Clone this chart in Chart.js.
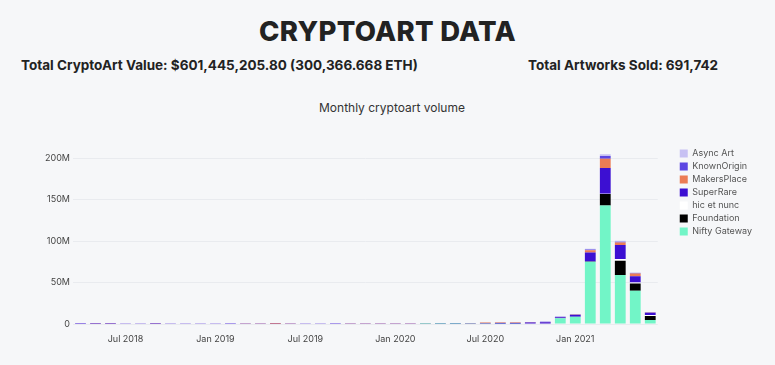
<!DOCTYPE html>
<html>
<head>
<meta charset="utf-8">
<script src="https://cdn.jsdelivr.net/npm/chart.js@4"></script>
<style>
  html, body { margin: 0; padding: 0; background: #f6f7f9; font-family: Inter, "Open Sans", sans-serif; color: #222; }
  #page { position: relative; width: 775px; height: 365px; overflow: hidden; }
  h1 { position: absolute; top: 14px; left: 0; width: 775px; margin: 0; text-align: center; font-size: 27.5px; font-weight: 800; letter-spacing: 0.3px; color: #222; }
  .stat { position: absolute; top: 57px; margin: 0; font-size: 13.5px; font-weight: 700; color: #222; white-space: nowrap; }
  #statValue { left: 21px; }
  #statSold { left: 528px; }
  #chartTitle { position: absolute; top: 100px; left: 319px; margin: 0; font-size: 12px; color: #333; white-space: nowrap; }
  #chartBox { position: absolute; left: 0; top: 90px; width: 775px; height: 275px; }
</style>
</head>
<body>
<div id="page">
  <h1>CRYPTOART DATA</h1>
  <p class="stat" id="statValue">Total CryptoArt Value: $601,445,205.80 (300,366.668 ETH)</p>
  <p class="stat" id="statSold">Total Artworks Sold: 691,742</p>
  <p id="chartTitle">Monthly cryptoart volume</p>
  <div id="chartBox"><canvas id="chartVolume"></canvas></div>
</div>
<script>
// meses (abr 2018 - jun 2021)
const months = [
    '2018-04', '2018-05', '2018-06', '2018-07', '2018-08', '2018-09', '2018-10', '2018-11', '2018-12',
    '2019-01', '2019-02', '2019-03', '2019-04', '2019-05', '2019-06', '2019-07', '2019-08', '2019-09', '2019-10', '2019-11', '2019-12',
    '2020-01', '2020-02', '2020-03', '2020-04', '2020-05', '2020-06', '2020-07', '2020-08', '2020-09', '2020-10', '2020-11', '2020-12',
    '2021-01', '2021-02', '2021-03', '2021-04', '2021-05', '2021-06'
];
const monthNames = ['Jan', 'Feb', 'Mar', 'Apr', 'May', 'Jun', 'Jul', 'Aug', 'Sep', 'Oct', 'Nov', 'Dec'];

// volume mensal em milhões de USD
const niftyGateway = [
    0, 0, 0, 0, 0, 0, 0, 0, 0,
    0, 0, 0, 0, 0, 0, 0, 0, 0, 0, 0, 0,
    0, 0, 0.1, 0.1, 0.1, 0.2, 0.3, 0.4, 0.3, 0.5, 0.6, 6.8,
    8.8, 75, 143, 59, 40, 4.8
];
const foundation = [
    0, 0, 0, 0, 0, 0, 0, 0, 0,
    0, 0, 0, 0, 0, 0, 0, 0, 0, 0, 0, 0,
    0, 0, 0, 0, 0, 0, 0, 0, 0, 0, 0, 0,
    0, 0.3, 14, 17.3, 8.8, 4.8
];
const hicEtNunc = [
    0, 0, 0, 0, 0, 0, 0, 0, 0,
    0, 0, 0, 0, 0, 0, 0, 0, 0, 0, 0, 0,
    0, 0, 0, 0, 0, 0, 0, 0, 0, 0, 0, 0,
    0, 0, 0.3, 2, 1.2, 1.2
];
const superRare = [
    0.1, 0.15, 0.1, 0.2, 0.25, 0.15, 0.2, 0.3, 0.2,
    0.25, 0.3, 0.35, 0.2, 0.3, 0.25, 0.2, 0.2, 0.25, 0.3, 0.3, 0.35,
    0.3, 0.4, 0.35, 0.5, 0.6, 0.5, 0.6, 0.9, 1.0, 1.3, 1.6, 1.3,
    2.0, 11, 31, 16.9, 7.6, 2.8
];
const makersPlace = [
    0, 0.05, 0.1, 0.1, 0.1, 0.05, 0.1, 0.1, 0.15,
    0.1, 0.15, 0.2, 0.3, 0.8, 0.4, 0.2, 0.2, 0.15, 0.2, 0.2, 0.2,
    0.2, 0.2, 0.15, 0.2, 0.3, 0.3, 0.8, 0.5, 0.6, 0.3, 0.3, 0.4,
    0.5, 2.8, 11, 3.2, 3.2, 0.3
];
const knownOrigin = [
    0.05, 0.05, 0.08, 0.05, 0.05, 0.06, 0.05, 0.05, 0.05,
    0.05, 0.06, 0.05, 0.05, 0.06, 0.05, 0.05, 0.05, 0.06, 0.05, 0.06, 0.06,
    0.06, 0.08, 0.1, 0.1, 0.12, 0.1, 0.15, 0.2, 0.2, 0.25, 0.3, 0.3,
    0.4, 0.8, 3.5, 1, 0.8, 0.3
];
const asyncArt = [
    0, 0, 0, 0, 0, 0, 0, 0, 0,
    0, 0, 0, 0, 0, 0, 0, 0, 0, 0, 0, 0,
    0, 0.05, 0.1, 0.1, 0.15, 0.1, 0.2, 0.2, 0.25, 0.2, 0.3, 0.3,
    0.3, 1, 2, 1, 0.6, 0.2
];

const yTicks = [0, 50, 100, 150, 200];
const yMax = 216;

document.addEventListener('DOMContentLoaded', function() {
    const ctx = document.getElementById('chartVolume').getContext('2d');

    const serie = (label, data, color) => ({
        label: label,
        data: data,
        backgroundColor: color,
        borderWidth: 0,
        barPercentage: 0.72,
        categoryPercentage: 1
    });

    new Chart(ctx, {
        type: 'bar',
        data: {
            labels: months,
            datasets: [
                serie('Nifty Gateway', niftyGateway, '#72f5c7'),
                serie('Foundation', foundation, '#000000'),
                serie('hic et nunc', hicEtNunc, '#ffffff'),
                serie('SuperRare', superRare, '#3c0fd2'),
                serie('MakersPlace', makersPlace, '#ec7c55'),
                serie('KnownOrigin', knownOrigin, '#5c46e2'),
                serie('Async Art', asyncArt, '#c7c1f3')
            ]
        },
        options: {
            responsive: true,
            maintainAspectRatio: false,
            animation: false,
            layout: {
                padding: { left: 0, right: 13, top: 55, bottom: 21 }
            },
            plugins: {
                title: { display: false },
                legend: {
                    position: 'right',
                    align: 'start',
                    fullSize: false,
                    reverse: true,
                    labels: {
                        boxWidth: 8,
                        boxHeight: 8,
                        padding: 4,
                        color: '#555',
                        font: { family: 'Inter', size: 9 }
                    }
                },
                tooltip: { enabled: false }
            },
            scales: {
                x: {
                    stacked: true,
                    grid: { display: false },
                    border: { display: false },
                    ticks: {
                        autoSkip: false,
                        maxRotation: 0,
                        padding: 2,
                        color: '#444',
                        font: { family: 'Inter', size: 9 },
                        callback: function(value) {
                            const parts = this.getLabelForValue(value).split('-');
                            const m = parseInt(parts[1], 10);
                            if (m === 1 || m === 7) {
                                return monthNames[m - 1] + ' ' + parts[0];
                            }
                            return '';
                        }
                    },
                    afterFit: function(scale) { scale.height = 20; }
                },
                y: {
                    stacked: true,
                    min: 0,
                    max: yMax,
                    grid: { color: '#e9ebef', drawTicks: false },
                    border: { display: false },
                    afterBuildTicks: function(scale) {
                        scale.ticks = yTicks.map(v => ({ value: v }));
                    },
                    ticks: {
                        padding: 3,
                        color: '#444',
                        font: { family: 'Inter', size: 9 },
                        callback: function(value) {
                            return value === 0 ? '0' : value + 'M';
                        }
                    },
                    afterFit: function(scale) { scale.width = 73; }
                },
                yPad: {
                    position: 'right',
                    type: 'linear',
                    min: 0,
                    max: 1,
                    grid: { display: false },
                    border: { display: false },
                    ticks: { display: false },
                    afterFit: function(scale) { scale.width = 18; }
                }
            }
        }
    });
});
</script>
</body>
</html>
